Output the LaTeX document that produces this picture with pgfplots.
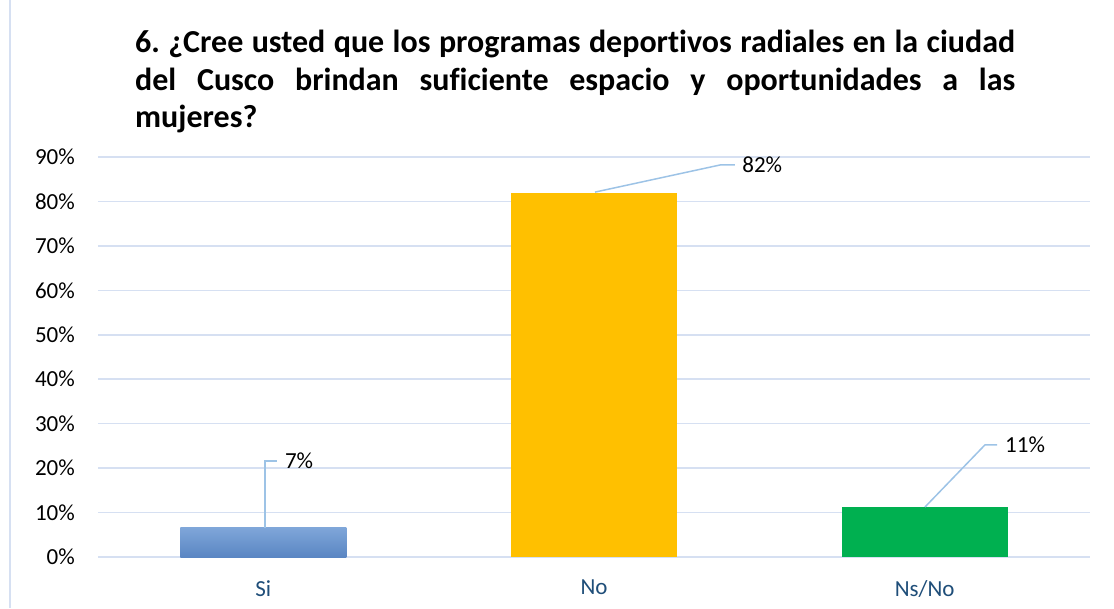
\documentclass[border=0pt]{standalone}
\usepackage{pgfplots}
\pgfplotsset{compat=1.18}
\usepackage{fontspec}
\setmainfont[Ligatures={NoCommon}]{Carlito}
\definecolor{gridc}{HTML}{D6E0F2}
\definecolor{leader}{HTML}{9DC3E6}
\definecolor{catc}{HTML}{1F4E79}
\definecolor{gold}{HTML}{FFC000}
\definecolor{grn}{HTML}{00B050}
\definecolor{bluetop}{HTML}{7FA6D9}
\definecolor{bluebot}{HTML}{5A86C3}
\begin{document}
\frenchspacing
\begin{tikzpicture}
\begin{axis}[
  scale only axis, width=992pt, height=400pt,
  xmin=-0.5, xmax=2.5, ymin=0, ymax=90,
  xtick={0,1,2}, xticklabels={Si,No,Ns/No},
  ytick={0,10,...,90},
  yticklabel={\pgfmathprintnumber{\tick}\%},
  /pgf/number format/assume math mode=true,
  major tick length=0pt,
  axis line style={draw=none},
  ymajorgrids, grid style={gridc, line width=1.6pt},
  tick label style={font=\fontsize{23}{27}\selectfont},
  yticklabel style={inner sep=0pt, xshift=-23pt},
  xticklabel style={text=catc, inner sep=0pt, yshift=-23pt},
  clip=false,
]
\addplot[ybar, bar width=166pt, bar shift=0pt, draw=none, top color=bluetop, bottom color=bluebot] coordinates {(0,6.6)};
\addplot[ybar, bar width=166pt, bar shift=0pt, draw=none, fill=gold] coordinates {(1,82)};
\addplot[ybar, bar width=166pt, bar shift=0pt, draw=none, fill=grn] coordinates {(2,11.3)};
\draw[leader, line width=1.5pt] (axis cs:0.005,6.6) -- (axis cs:0.005,21.6) -- (axis cs:0.041,21.6);
\node[anchor=west, inner sep=0pt, font=\fontsize{23}{27}\selectfont] at (axis cs:0.065,21.6) {7\%};
\draw[leader, line width=1.5pt] (axis cs:1.003,82.1) -- (axis cs:1.381,88.2) -- (axis cs:1.426,88.2);
\node[anchor=west, inner sep=0pt, font=\fontsize{23}{27}\selectfont] at (axis cs:1.448,88.2) {82\%};
\draw[leader, line width=1.5pt] (axis cs:2.001,11.25) -- (axis cs:2.182,25.2) -- (axis cs:2.219,25.2);
\node[anchor=west, inner sep=0pt, font=\fontsize{23}{27}\selectfont] at (axis cs:2.243,25.2) {11\%};
\end{axis}
\draw[gridc, line width=1.5pt] (-88pt,-51pt) -- (-88pt,557pt);
\node[anchor=north west, inner sep=0pt, text width=880pt, align=justify, font=\bfseries\fontsize{32}{37.5}\selectfont] at (37pt,527pt)
{6. ¿Cree usted que los programas deportivos radiales en la ciudad\linebreak del Cusco brindan suficiente espacio y oportunidades a las\linebreak mujeres?};
\pgfresetboundingbox
\path[use as bounding box] (-98pt,-51pt) rectangle (1016pt,557pt);
\end{tikzpicture}
\end{document}
